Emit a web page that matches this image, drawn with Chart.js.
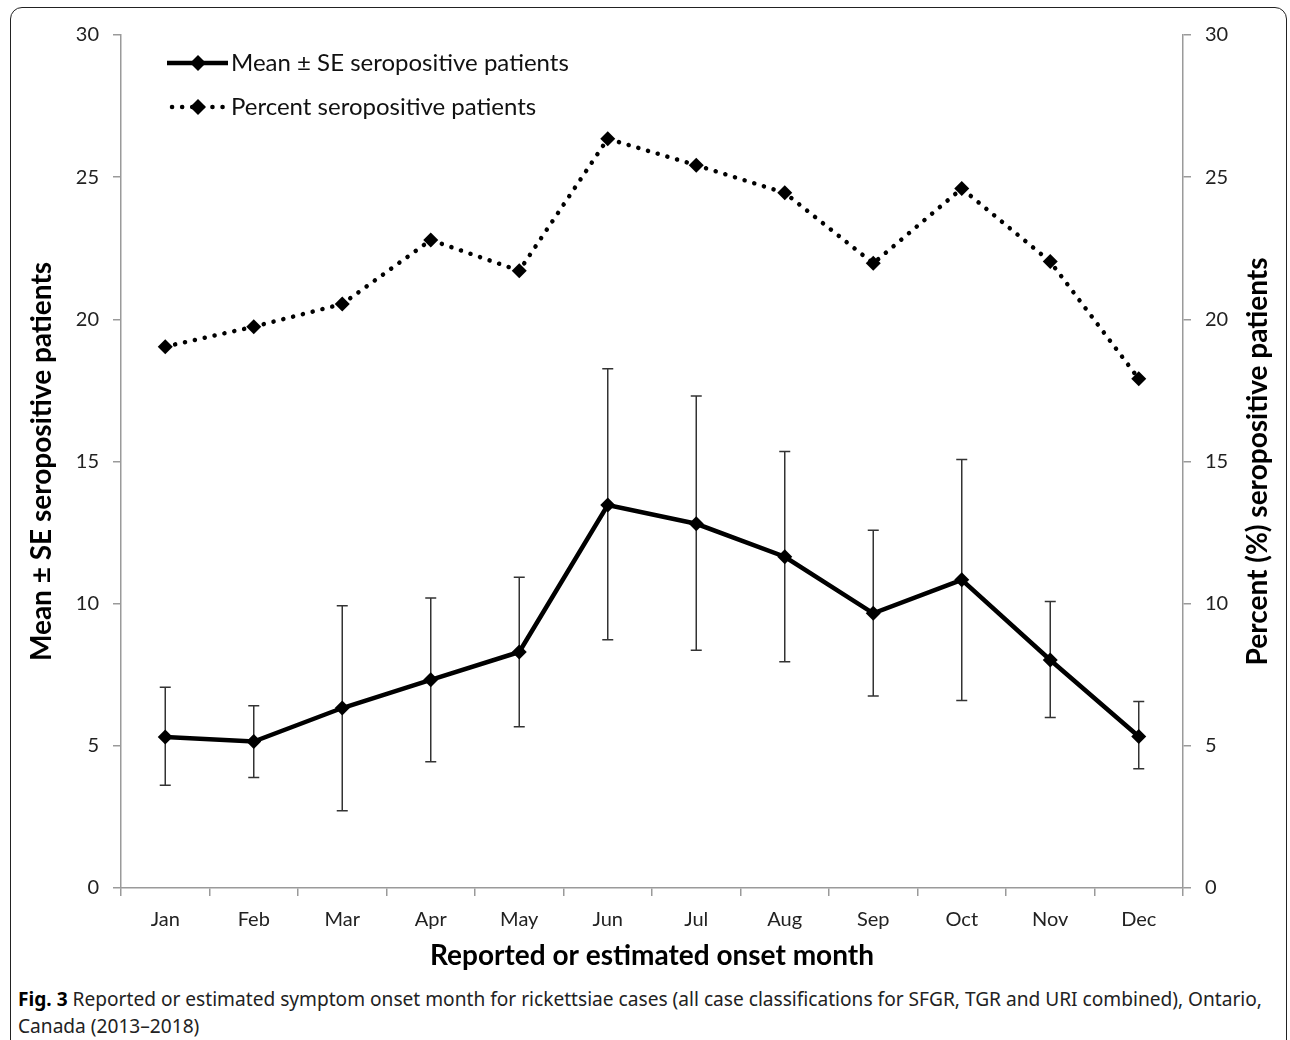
<!DOCTYPE html>
<html>
<head>
<meta charset="utf-8">
<script src="https://cdn.jsdelivr.net/npm/chart.js@4.4.1/dist/chart.umd.min.js"></script>
<style>
  html, body { margin: 0; padding: 0; background: #fff; }
  #wrap { position: relative; width: 1290px; height: 1040px; overflow: hidden; }
  #frame {
    position: absolute; left: 10px; top: 7px; width: 1277px; height: 1060px;
    border: 1.5px solid #222; border-radius: 12px; box-sizing: border-box;
  }
  #chartBox { position: absolute; left: 0; top: 0; width: 1290px; height: 975px; }
  #caption {
    position: absolute; left: 18px; top: 986px; white-space: nowrap;
    font-family: "Noto Sans", sans-serif;
    font-size: 19px; line-height: 27px; color: #222;
    transform-origin: 0 0;
  }
  #caption b { color: #000; }
</style>
</head>
<body>
<div id="wrap">
  <div id="frame"></div>
  <div id="chartBox"><canvas id="seroChart" width="1290" height="975"></canvas></div>
  <div id="caption"><b>Fig. 3</b> Reported or estimated symptom onset month for rickettsiae cases (all case classifications for SFGR, TGR and URI combined), Ontario,<br>Canada (2013–2018)</div>
</div>
<script>
const months = ["Jan", "Feb", "Mar", "Apr", "May", "Jun", "Jul", "Aug", "Sep", "Oct", "Nov", "Dec"];
const meanValues = [5.31, 5.15, 6.33, 7.32, 8.30, 13.47, 12.81, 11.65, 9.66, 10.84, 8.02, 5.33];
const seUpper = [7.06, 6.41, 9.93, 10.20, 10.93, 18.26, 17.30, 15.35, 12.58, 15.07, 10.08, 6.56];
const seLower = [3.61, 3.89, 2.72, 4.44, 5.67, 8.73, 8.36, 7.96, 6.75, 6.59, 6.00, 4.19];
const percentValues = [19.04, 19.74, 20.54, 22.79, 21.71, 26.35, 25.42, 24.45, 21.97, 24.60, 22.03, 17.91];
const yTicks = [0, 5, 10, 15, 20, 25, 30];

const FONT = "Lato, 'Liberation Sans', sans-serif";
const AXIS_GREY = "#9a9a9a";

// squeeze caption line 1 to the reference width
const cap = document.getElementById("caption");
cap.style.transform = "scaleX(" + (1244 / cap.getBoundingClientRect().width) + ")";

// error bars for the mean series, drawn under the line
const errorBars = {
  id: "errorBars",
  beforeDatasetsDraw(chart) {
    const ctx = chart.ctx;
    const x = chart.scales.x, y = chart.scales.y;
    ctx.save();
    ctx.strokeStyle = "#333";
    ctx.lineWidth = 1.5;
    months.forEach((m, i) => {
      const px = x.getPixelForValue(i);
      const top = y.getPixelForValue(seUpper[i]);
      const bot = y.getPixelForValue(seLower[i]);
      ctx.beginPath();
      ctx.moveTo(px, top); ctx.lineTo(px, bot);
      ctx.moveTo(px - 5.5, top); ctx.lineTo(px + 5.5, top);
      ctx.moveTo(px - 5.5, bot); ctx.lineTo(px + 5.5, bot);
      ctx.stroke();
    });
    ctx.restore();
  }
};

function diamond(ctx, cx, cy, r) {
  ctx.beginPath();
  ctx.moveTo(cx, cy - r); ctx.lineTo(cx + r, cy);
  ctx.lineTo(cx, cy + r); ctx.lineTo(cx - r, cy);
  ctx.closePath(); ctx.fill();
}

// legend in the top-left corner and right axis title (reads bottom to top)
const extras = {
  id: "extras",
  afterDraw(chart) {
    const ctx = chart.ctx;
    const ds = chart.data.datasets;
    ctx.save();
    ctx.fillStyle = "#000";
    ctx.strokeStyle = "#000";
    const rows = [{ y: 63, d: ds[0] }, { y: 107, d: ds[1] }];
    rows.forEach(r => {
      ctx.lineWidth = r.d.borderWidth;
      ctx.lineCap = r.d.borderCapStyle || "butt";
      ctx.setLineDash(r.d.borderDash || []);
      ctx.beginPath();
      ctx.moveTo(r.d.borderDash ? 172 : 167, r.y);
      ctx.lineTo(r.d.borderDash ? 226 : 228, r.y);
      ctx.stroke();
      ctx.setLineDash([]);
      diamond(ctx, 198, r.y, 8);
      ctx.font = "24px " + FONT;
      ctx.fillStyle = "#111";
      ctx.textBaseline = "middle";
      ctx.fillText(r.d.label, 231, r.y);
      ctx.fillStyle = "#000";
    });
    const area = chart.chartArea;
    ctx.translate(1258, (area.top + area.bottom) / 2);
    ctx.rotate(-Math.PI / 2);
    ctx.font = "bold 28px " + FONT;
    ctx.textAlign = "center";
    ctx.textBaseline = "middle";
    ctx.fillText("Percent (%) seropositive patients", 0, 0);
    ctx.restore();
  }
};

const yAxisBase = {
  min: 0, max: 30,
  afterBuildTicks: s => { s.ticks = yTicks.map(v => ({ value: v })); },
  grid: { drawOnChartArea: false, tickLength: 8, color: AXIS_GREY, lineWidth: 1.5 },
  border: { color: AXIS_GREY, width: 1.5 },
  ticks: { font: { family: FONT, size: 20 }, color: "#222", padding: 14 }
};

function drawChart() {
  new Chart(document.getElementById("seroChart"), {
    type: "line",
    data: {
      labels: months,
      datasets: [
        {
          label: "Mean ± SE seropositive patients",
          data: meanValues,
          yAxisID: "y",
          borderColor: "#000",
          backgroundColor: "#000",
          borderWidth: 4.5,
          pointStyle: "rectRot",
          pointRadius: 7.5,
          pointBorderWidth: 0,
          tension: 0
        },
        {
          label: "Percent seropositive patients",
          data: percentValues,
          yAxisID: "y1",
          borderColor: "#000",
          backgroundColor: "#000",
          borderWidth: 4.5,
          borderDash: [0.1, 10],
          borderCapStyle: "round",
          pointStyle: "rectRot",
          pointRadius: 7.5,
          pointBorderWidth: 0,
          tension: 0
        }
      ]
    },
    options: {
      responsive: false,
      animation: false,
      layout: { padding: { top: 35, left: 0, right: 0, bottom: 0 } },
      plugins: { legend: { display: false }, tooltip: { enabled: false } },
      scales: {
        x: {
          offset: true,
          grid: { offset: true, drawOnChartArea: false, tickLength: 8, color: AXIS_GREY, lineWidth: 1.5 },
          border: { color: AXIS_GREY, width: 1.5 },
          ticks: { font: { family: FONT, size: 20 }, color: "#222", padding: 12, maxRotation: 0 },
          title: {
            display: true, text: "Reported or estimated onset month", color: "#000",
            font: { family: FONT, size: 28, weight: "bold" }, padding: { top: 0, bottom: 2 }
          },
          afterFit: s => { s.height = 975 - 888; }
        },
        y: Object.assign({}, yAxisBase, {
          position: "left",
          title: {
            display: true, text: "Mean ± SE seropositive patients", color: "#000",
            font: { family: FONT, size: 28, weight: "bold" }, padding: { top: 25, bottom: 0 }
          },
          afterFit: s => { s.width = 121; }
        }),
        y1: Object.assign({}, yAxisBase, {
          position: "right",
          afterFit: s => { s.width = 107; }
        })
      }
    },
    plugins: [errorBars, extras]
  });
}

Promise.all([
  document.fonts.load("20px Lato"),
  document.fonts.load("bold 28px Lato")
]).then(drawChart, drawChart);
</script>
</body>
</html>
